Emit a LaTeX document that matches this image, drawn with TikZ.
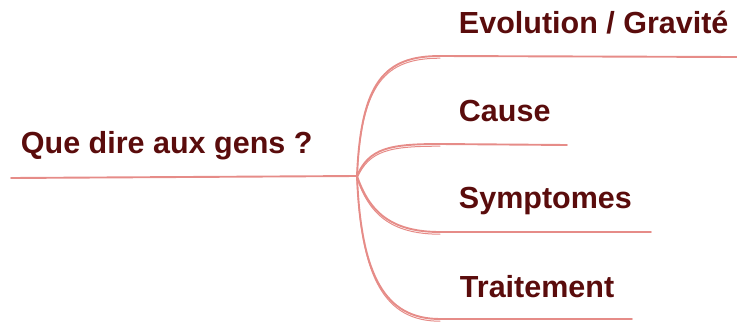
\documentclass[tikz,border=0pt]{standalone}
\usepackage{fontspec}
\setmainfont{Liberation Sans}
\usetikzlibrary{positioning}
\definecolor{branch}{HTML}{E68C88}
\definecolor{label}{HTML}{5A0C0C}

\begin{document}
\begin{tikzpicture}[x=1pt,y=-1pt,line width=1.9pt,
  topic/.style={anchor=base west,inner sep=0pt,text=label,font=\fontsize{30.5}{33}\selectfont\bfseries},
  sketch/.style={draw=branch,line cap=round,
    postaction={draw=branch,line width=1pt,transform canvas={yshift=-2.2pt}}}]
\useasboundingbox (0,0) rectangle (737,322);

\node[topic](root) at (20,153){Que dire aux gens ?};
\node[topic](evo) at (458,33){Evolution / Gravit\'e};
\node[topic](cause) at (458,121){Cause};
\node[topic](sympt) at (458,208){Symptomes};
\node[topic](trait) at (459,297){Traitement};

\coordinate (r0) at (11,178);
\coordinate (hub) at (357,176);
\coordinate (e0) at (440,56);  \coordinate (e1) at (737,57);
\coordinate (c0) at (440,144); \coordinate (c1) at (567,145);
\coordinate (s0) at (440,232); \coordinate (s1) at (651,232);
\coordinate (t0) at (440,319); \coordinate (t1) at (632,319);

% root underline
\path[sketch] (r0) edge (hub);

% branches
\draw[sketch] (hub) .. controls +(4,-95) and +(-55,0) .. (e0);
\draw[sketch] (hub) .. controls +(12,-28) and +(-50,0) .. (c0);
\draw[sketch] (hub) .. controls +(12,35) and +(-50,0) .. (s0);
\draw[sketch] (hub) .. controls +(4,100) and +(-55,0) .. (t0);

% underlines
\path[sketch] (e0) edge (e1)
  (c0) edge (c1)
  (s0) edge (s1)
  (t0) edge (t1);

\end{tikzpicture}
\end{document}
